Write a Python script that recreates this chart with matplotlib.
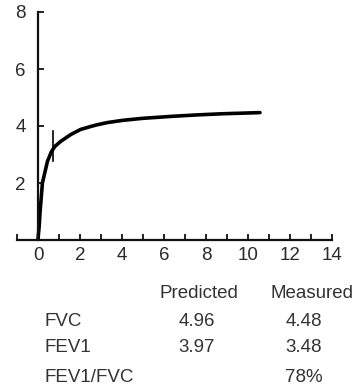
import matplotlib.pyplot as plt

plt.rcParams['font.family'] = ['Liberation Sans', 'DejaVu Sans']

# volume-time curve (s, L)
time_s = [0, 0.02, 0.05, 0.1, 0.21, 0.45, 0.64, 0.8, 1.08, 1.56, 2.03, 2.5,
          2.8, 3.3, 4.05, 5.0, 6.4, 7.6, 8.8, 9.7, 10.57]
volume = [0, 0.2, 0.43, 1.0, 2.0, 2.76, 3.1, 3.28, 3.46, 3.7, 3.88, 3.98,
          4.04, 4.12, 4.2, 4.27, 4.34, 4.39, 4.43, 4.45, 4.47]
fev1_mark_t = 0.72
fev1_mark_v = [2.76, 3.81]

x_ticks = list(range(-1, 15))
x_labels = ['' if t < 0 or t % 2 else str(t) for t in x_ticks]
y_ticks = [2, 4, 6, 8]

col_heads = ['Predicted', 'Measured']
row_names = ['FVC', 'FEV1', 'FEV1/FVC']
predicted = ['4.96', '3.97', '']
measured = ['4.48', '3.48', '78%']

fig = plt.figure(figsize=(3.61, 3.92), dpi=100)
ax = fig.add_axes([17/361, 1 - 240/392, 315/361, 228/392])

ax.plot(time_s, volume, color='black', lw=2.6, solid_capstyle='round')
ax.plot([fev1_mark_t, fev1_mark_t], fev1_mark_v, color='black', lw=1.2)

ax.set_xlim(-1, 14)
ax.set_ylim(0, 8)
for s in ['top', 'right']:
    ax.spines[s].set_visible(False)
ax.spines['left'].set_position(('data', 0))
ax.spines['left'].set_bounds(0, 8)
ax.spines['bottom'].set_bounds(-1, 14)
for s in ['left', 'bottom']:
    ax.spines[s].set_linewidth(1.6)
    ax.spines[s].set_color('#111111')

ax.set_xticks(x_ticks)
ax.set_xticklabels(x_labels)
ax.set_yticks(y_ticks)
ax.tick_params(axis='x', direction='in', length=4.5, width=1.3, pad=5,
               labelsize=13.5, labelcolor='#2a2a2a', color='#111111')
ax.tick_params(axis='y', direction='in', length=4.5, width=1.3, pad=9,
               labelsize=13.5, labelcolor='#2a2a2a', color='#111111')

# table under the chart
def fy(py):
    return 1 - py / 392

tc = '#333333'
fs = 13.5
fig.text(199/361, fy(294), col_heads[0], ha='center', va='center', fontsize=fs, color=tc)
fig.text(312/361, fy(294), col_heads[1], ha='center', va='center', fontsize=fs, color=tc)
row_y = [322, 348, 377]
for name, p, m, py in zip(row_names, predicted, measured, row_y):
    fig.text(45/361, fy(py), name, ha='left', va='center', fontsize=fs, color=tc)
    fig.text(197/361, fy(py), p, ha='center', va='center', fontsize=fs, color=tc)
    fig.text(304/361, fy(py), m, ha='center', va='center', fontsize=fs, color=tc)

fig.savefig('out.png', dpi=100)
